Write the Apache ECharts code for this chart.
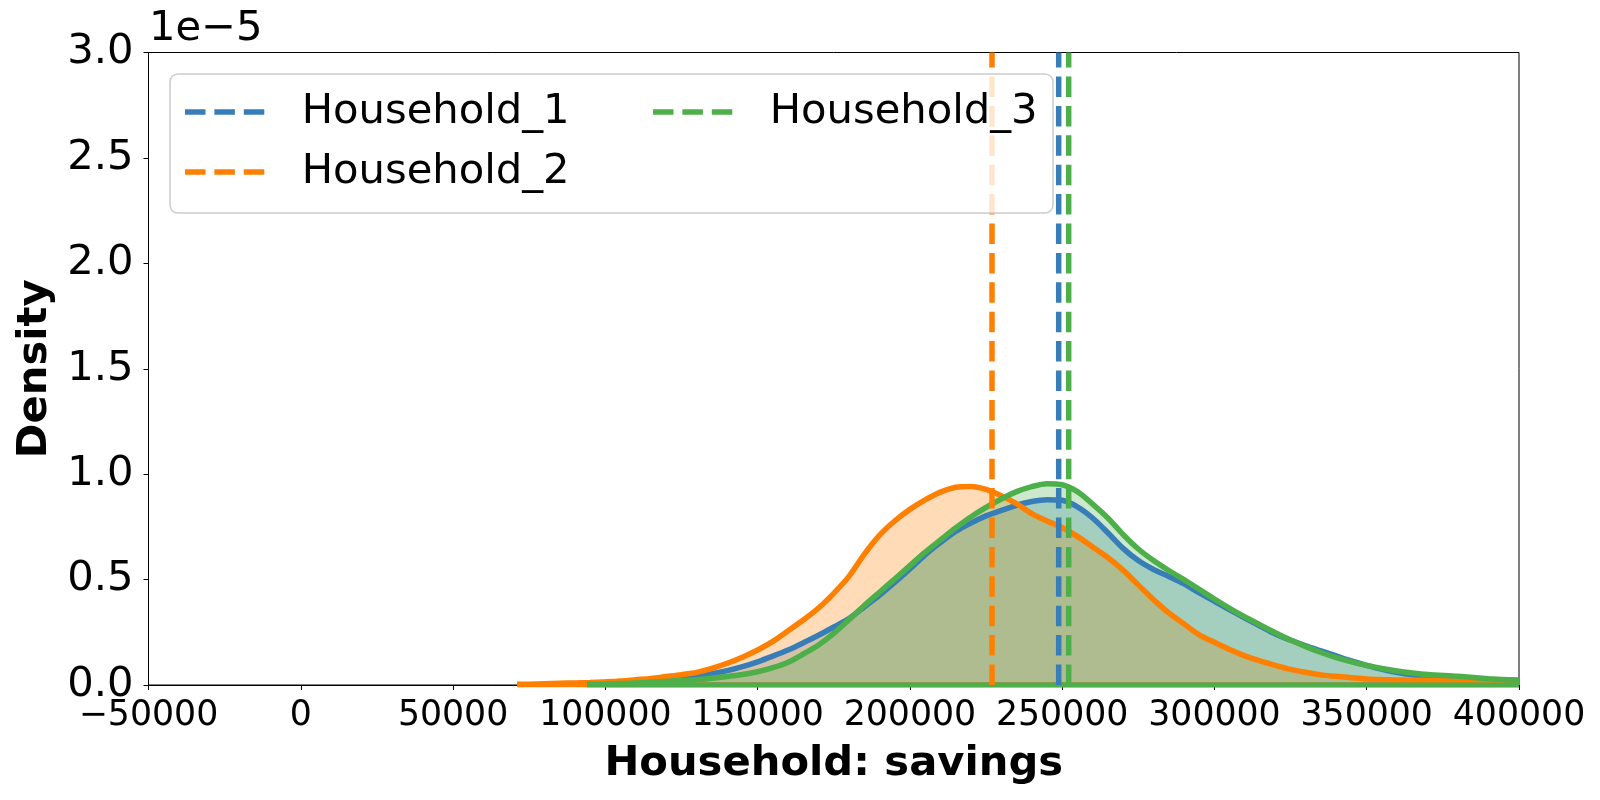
<!DOCTYPE html>
<html>
<head>
<meta charset="utf-8">
<title>Household savings density</title>
<script src="https://cdn.jsdelivr.net/npm/echarts@6/dist/echarts.min.js"></script>
<style>
  html, body { margin: 0; padding: 0; background: #fff; }
  #chart { width: 1600px; height: 800px; }
</style>
</head>
<body>
<div id="chart"></div>
<script>
// density values are in units of 1e-5
var households = ['Household_1', 'Household_2', 'Household_3'];
var colors = ['#377eb8', '#ff7f00', '#4daf4a'];
var meanSavings = [248860, 226960, 252140];

// savings grid shared by Household_1 and Household_3
var gridSavings = [94000, 100000, 105000, 110000, 115000, 120000, 125000, 130000, 135000, 140000,
    145000, 150000, 155000, 160000, 165000, 170000, 175000, 180000, 185000, 190000,
    195000, 200000, 205000, 210000, 215000, 220000, 225000, 230000, 235000, 240000,
    245000, 250000, 255000, 260000, 265000, 270000, 275000, 280000, 285000, 290000,
    295000, 300000, 305000, 310000, 315000, 320000, 325000, 330000, 335000, 340000,
    345000, 350000, 355000, 360000, 365000, 370000, 380000, 390000, 400000];

var h1Density = [0.004, 0.007, 0.01, 0.014, 0.019, 0.026, 0.033, 0.042, 0.054, 0.068,
    0.087, 0.11, 0.137, 0.166, 0.2, 0.236, 0.275, 0.315, 0.37, 0.425,
    0.486, 0.55, 0.617, 0.675, 0.728, 0.768, 0.802, 0.828, 0.852, 0.87,
    0.879, 0.876, 0.845, 0.792, 0.722, 0.648, 0.59, 0.548, 0.515, 0.48,
    0.437, 0.397, 0.357, 0.318, 0.28, 0.242, 0.212, 0.186, 0.162, 0.138,
    0.114, 0.093, 0.074, 0.059, 0.048, 0.041, 0.033, 0.026, 0.022];

var h3Density = [0.003, 0.005, 0.007, 0.009, 0.013, 0.017, 0.021, 0.025, 0.032, 0.04,
    0.05, 0.063, 0.082, 0.108, 0.147, 0.19, 0.245, 0.31, 0.377, 0.44,
    0.502, 0.566, 0.63, 0.688, 0.745, 0.797, 0.842, 0.882, 0.917, 0.941,
    0.955, 0.95, 0.917, 0.858, 0.792, 0.714, 0.645, 0.59, 0.543, 0.5,
    0.454, 0.408, 0.364, 0.323, 0.285, 0.248, 0.213, 0.182, 0.154, 0.13,
    0.11, 0.093, 0.078, 0.066, 0.057, 0.05, 0.041, 0.03, 0.022];

var h2Savings = [71000, 75000, 80000, 85000, 90000, 95000,
    100000, 105000, 110000, 115000, 120000, 125000, 130000, 135000, 140000,
    145000, 150000, 155000, 160000, 165000, 170000, 175000, 180000, 185000, 190000,
    195000, 200000, 205000, 210000, 215000, 220000, 225000, 230000, 235000, 240000,
    245000, 250000, 255000, 260000, 265000, 270000, 275000, 280000, 285000, 290000,
    295000, 300000, 305000, 310000, 315000, 320000, 325000, 330000, 335000, 340000,
    345000, 350000, 355000, 360000, 365000, 370000, 380000, 390000, 400000];

var h2Density = [0.003, 0.004, 0.006, 0.008, 0.01, 0.012,
    0.015, 0.019, 0.025, 0.031, 0.04, 0.049, 0.06, 0.079, 0.103,
    0.132, 0.166, 0.207, 0.257, 0.308, 0.365, 0.435, 0.515, 0.62, 0.71,
    0.778, 0.833, 0.878, 0.915, 0.938, 0.942, 0.928, 0.898, 0.86, 0.813,
    0.778, 0.747, 0.705, 0.655, 0.605, 0.545, 0.475, 0.405, 0.342, 0.29,
    0.238, 0.203, 0.168, 0.138, 0.114, 0.093, 0.074, 0.06, 0.048, 0.041,
    0.034, 0.029, 0.026, 0.024, 0.023, 0.022, 0.022, 0.021, 0.02];

var xTicks = { min: -50000, max: 400000, step: 50000 };
var yTicks = { min: 0, max: 3, step: 0.5 };

var kdeSavings = [gridSavings, h2Savings, gridSavings];
var kdeDensity = [h1Density, h2Density, h3Density];

function zipPairs(xs, ys) {
    return xs.map(function (x, i) { return [x, ys[i]]; });
}

var font = 'DejaVu Sans';
var bigFont = 41.7;
var series = [];

// filled kde curves, drawn in order so later fills cover earlier lines
kdeSavings.forEach(function (xs, i) {
    series.push({
        name: households[i] + ' kde',
        type: 'line',
        smooth: 0.3,
        symbol: 'none',
        z: 2,
        data: zipPairs(xs, kdeDensity[i]),
        lineStyle: { color: colors[i], width: 5.5 },
        areaStyle: { color: colors[i], opacity: 0.28 },
        silent: true
    });
    // polygon edge along the baseline
    series.push({
        name: households[i] + ' base',
        type: 'line',
        symbol: 'none',
        z: 2,
        data: [[xs[0], 0], [xs[xs.length - 1], 0]],
        lineStyle: { color: colors[i], width: 5 },
        silent: true
    });
});

// dashed mean lines (these are the legend entries)
meanSavings.forEach(function (m, i) {
    series.push({
        name: households[i],
        type: 'line',
        symbol: 'none',
        z: 3,
        data: [[m, yTicks.min], [m, yTicks.max]],
        lineStyle: { color: colors[i], width: 5.5, type: [20.5, 8.9] },
        itemStyle: { color: colors[i] },
        silent: true
    });
});

// three-dash legend handle
var dashIcon = 'path://M0,0h20.5v5.5h-20.5z M29.4,0h20.5v5.5h-20.5z M58.8,0h20.5v5.5h-20.5z';

var legendCommon = {
    orient: 'vertical',
    itemWidth: 80,
    itemHeight: 5.5,
    itemGap: 18,
    padding: 0,
    z: 11,
    selectedMode: false,
    icon: dashIcon,
    textStyle: { fontFamily: font, fontSize: bigFont, color: '#000', padding: [0, 0, 0, 32] }
};

var option = {
    backgroundColor: '#fff',
    animation: false,
    title: {
        text: '1e\u22125',
        left: 149,
        top: 8,
        padding: 0,
        textStyle: { fontFamily: font, fontSize: bigFont, fontWeight: 'normal', color: '#000' }
    },
    grid: {
        left: 148.5,
        right: 81,
        top: 52.5,
        bottom: 115,
        show: true,
        borderColor: '#000',
        borderWidth: 1,
        backgroundColor: 'transparent'
    },
    xAxis: {
        type: 'value',
        min: xTicks.min,
        max: xTicks.max,
        interval: xTicks.step,
        name: 'Household: savings',
        nameLocation: 'middle',
        nameGap: 58,
        nameTextStyle: { fontFamily: font, fontSize: bigFont, fontWeight: 'bold', color: '#000' },
        axisLine: { show: true, onZero: false, lineStyle: { color: '#000', width: 1 } },
        axisTick: { show: true, length: 5, lineStyle: { color: '#000', width: 1 } },
        axisLabel: {
            fontFamily: font,
            fontSize: 34.7,
            color: '#000',
            margin: 13,
            formatter: function (v) { return v < 0 ? '\u2212' + Math.abs(v) : String(v); }
        },
        splitLine: { show: false }
    },
    yAxis: {
        type: 'value',
        min: yTicks.min,
        max: yTicks.max,
        interval: yTicks.step,
        name: 'Density',
        nameLocation: 'middle',
        nameGap: 92,
        nameTextStyle: { fontFamily: font, fontSize: bigFont, fontWeight: 'bold', color: '#000' },
        axisLine: { show: true, onZero: false, lineStyle: { color: '#000', width: 1 } },
        axisTick: { show: true, length: 5, lineStyle: { color: '#000', width: 1 } },
        axisLabel: {
            fontFamily: font,
            fontSize: bigFont,
            color: '#000',
            margin: 15,
            formatter: function (v) { return v.toFixed(1); }
        },
        splitLine: { show: false }
    },
    legend: [
        Object.assign({}, legendCommon, { data: [households[0], households[1]], left: 185, top: 91 }),
        Object.assign({}, legendCommon, { data: [households[2]], left: 653, top: 91 })
    ],
    graphic: [{
        type: 'rect',
        z: 10,
        shape: { x: 170, y: 74, width: 883, height: 139, r: 8 },
        style: { fill: 'rgba(255,255,255,0.8)', stroke: '#cccccc', lineWidth: 1.5 },
        silent: true
    }],
    series: series
};

var chart = echarts.init(document.getElementById('chart'), null, { renderer: 'canvas' });
chart.setOption(option);
</script>
</body>
</html>
